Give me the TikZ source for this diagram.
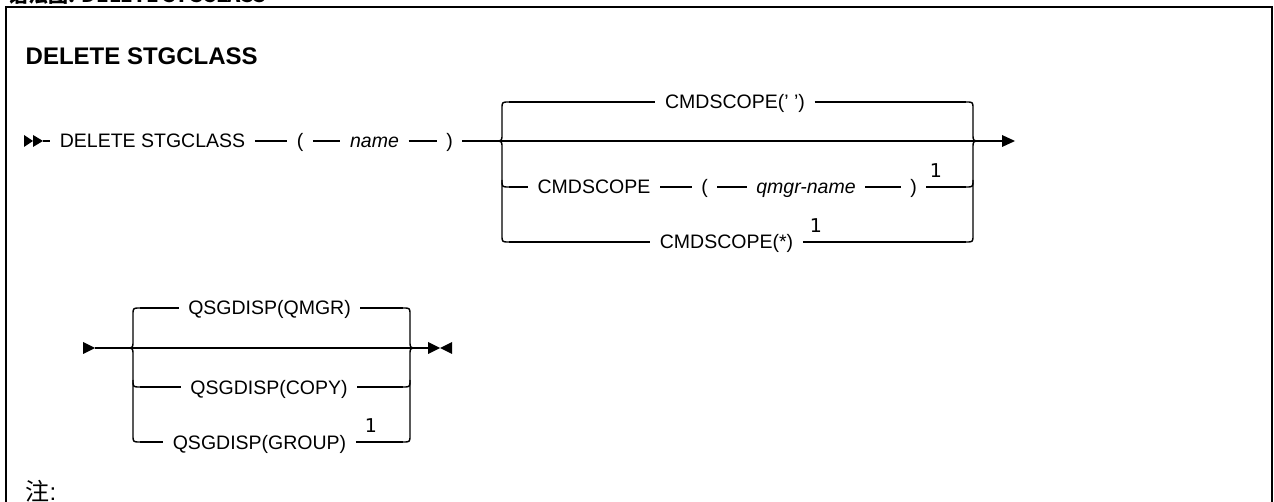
\documentclass[tikz,border=0pt]{standalone}
\usepackage{fontspec}
\setmainfont{Liberation Sans}
\newfontfamily\cjkfont{Noto Sans CJK SC}
\newfontfamily\supfont{DejaVu Sans}
\begin{document}
\begin{tikzpicture}[x=1pt,y=-1pt,line width=1.4pt,
  lbl/.style={font=\fontsize{19.5}{22}\selectfont,inner xsep=9pt,inner ysep=0pt,anchor=base},
  lbli/.style={lbl,font=\fontsize{19.5}{22}\selectfont\itshape},
  supl/.style={font=\supfont\fontsize{19}{21}\selectfont,inner sep=0pt,anchor=base},
  titl/.style={font=\fontsize{24}{26}\selectfont\bfseries,inner sep=0pt,anchor=base west}]
\useasboundingbox (0,0) rectangle (1274,502);
% cut-off heading at top
\begin{scope}
\clip (0,0) rectangle (1274,6);
\node[inner sep=0pt,anchor=base west,font=\cjkfont\bfseries\fontsize{20}{22}\selectfont] (head) at (8,3) {语法图: DELETE STGCLASS};
\end{scope}
% frame
\draw[line width=2pt] (6,510) -- (6,7) -- (1272,7) -- (1272,510);
% title
\node[titl] (title) at (25,65) {DELETE STGCLASS};

% ---------- diagram 1 ----------
\coordinate (r1) at (0,141);
\coordinate (r1t) at (0,102);
\coordinate (r1q) at (0,187);
\coordinate (r1s) at (0,242);
\fill (24,135) -- (33,141) -- (24,147) -- cycle;
\fill (33,135) -- (43,141) -- (33,147) -- cycle;
\coordinate (s1) at (43,141);
\node[lbl] (cmd) at (152.5,148) {DELETE STGCLASS};
\node[lbl] (lp1) at (300,148) {(};
\node[lbli] (nm) at (374.5,148) {name};
\node[lbl] (rp1) at (449.5,148) {)};
\coordinate (e1) at (1002,141);
\draw (s1) -- (cmd.west |- r1);
\draw (cmd.east |- r1) -- (lp1.west |- r1);
\draw (lp1.east |- r1) -- (nm.west |- r1);
\draw (nm.east |- r1) -- (rp1.west |- r1);
\draw (rp1.east |- r1) -- (e1);
\fill (e1) ++(0,-6) -- ++(13,6) -- ++(-13,6) -- cycle;
% left brace
\coordinate (lt1) at (509,102);
\coordinate (lq1) at (509,187);
\coordinate (ls1) at (509,242);
\draw (495,141) .. controls (502,141) .. (502,134) -- (502,109) .. controls (502,102) .. (lt1);
\draw (495,141) .. controls (502,141) .. (502,148) -- (502,235) .. controls (502,242) .. (ls1);
\draw (502,180) .. controls (502,187) .. (lq1);
% right brace
\coordinate (rt1) at (966,102);
\coordinate (rq1) at (966,187);
\coordinate (rs1) at (966,242);
\draw (rt1) .. controls (973,102) .. (973,109) -- (973,134) .. controls (973,141) .. (980,141);
\draw (rs1) .. controls (973,242) .. (973,235) -- (973,148) .. controls (973,141) .. (980,141);
\draw (rq1) .. controls (973,187) .. (973,180);
% top branch
\node[lbl] (t1) at (735,109) {CMDSCOPE(' ')};
\draw (lt1) -- (t1.west |- r1t);
\draw (t1.east |- r1t) -- (rt1);
% qmgr branch
\node[lbl] (c2) at (594,194) {CMDSCOPE};
\node[lbl] (lp2) at (704.5,194) {(};
\node[lbli] (qn) at (806,194) {qmgr-name};
\node[lbl] (rp2) at (913.5,194) {)};
\node[supl] (n1) at (936,178) {1};
\draw (lq1) -- (c2.west |- r1q);
\draw (c2.east |- r1q) -- (lp2.west |- r1q);
\draw (lp2.east |- r1q) -- (qn.west |- r1q);
\draw (qn.east |- r1q) -- (rp2.west |- r1q);
\draw (rp2.east |- r1q) -- (rq1);
% star branch
\node[lbl] (s3) at (726.5,249) {CMDSCOPE(*)};
\node[supl] (n2) at (816,233) {1};
\draw (ls1) -- (s3.west |- r1s);
\draw (s3.east |- r1s) -- (rs1);

% ---------- diagram 2 ----------
\coordinate (r2) at (0,348);
\coordinate (r2t) at (0,308);
\coordinate (r2c) at (0,387);
\coordinate (r2g) at (0,442);
\fill (83,342) -- (95,348) -- (83,354) -- cycle;
\coordinate (s2) at (95,348);
\coordinate (e2) at (428,348);
\draw (s2) -- (e2);
\fill (428,342) -- (440,348) -- (428,354) -- cycle;
\fill (452,342) -- (440,348) -- (452,354) -- cycle;
% left brace
\coordinate (lt2) at (140,308);
\coordinate (lc2) at (140,387);
\coordinate (lg2) at (140,442);
\draw (126,348) .. controls (133,348) .. (133,341) -- (133,315) .. controls (133,308) .. (lt2);
\draw (126,348) .. controls (133,348) .. (133,355) -- (133,435) .. controls (133,442) .. (lg2);
\draw (133,380) .. controls (133,387) .. (lc2);
% right brace
\coordinate (rt2) at (403,308);
\coordinate (rc2) at (403,387);
\coordinate (rg2) at (403,442);
\draw (rt2) .. controls (410,308) .. (410,315) -- (410,341) .. controls (410,348) .. (417,348);
\draw (rg2) .. controls (410,442) .. (410,435) -- (410,355) .. controls (410,348) .. (417,348);
\draw (rc2) .. controls (410,387) .. (410,380);
% branches
\node[lbl] (q1) at (269.5,315) {QSGDISP(QMGR)};
\node[lbl] (q2) at (269,394) {QSGDISP(COPY)};
\node[lbl] (q3) at (259.5,449) {QSGDISP(GROUP)};
\node[supl] (n3) at (371,432) {1};
\draw (lt2) -- (q1.west |- r2t);
\draw (q1.east |- r2t) -- (rt2);
\draw (lc2) -- (q2.west |- r2c);
\draw (q2.east |- r2c) -- (rc2);
\draw (lg2) -- (q3.west |- r2g);
\draw (q3.east |- r2g) -- (rg2);

% note
\node[inner sep=0pt,anchor=base west,font=\fontsize{24}{26}\selectfont] (note) at (25,500) {{\cjkfont 注}:};
\end{tikzpicture}
\end{document}
